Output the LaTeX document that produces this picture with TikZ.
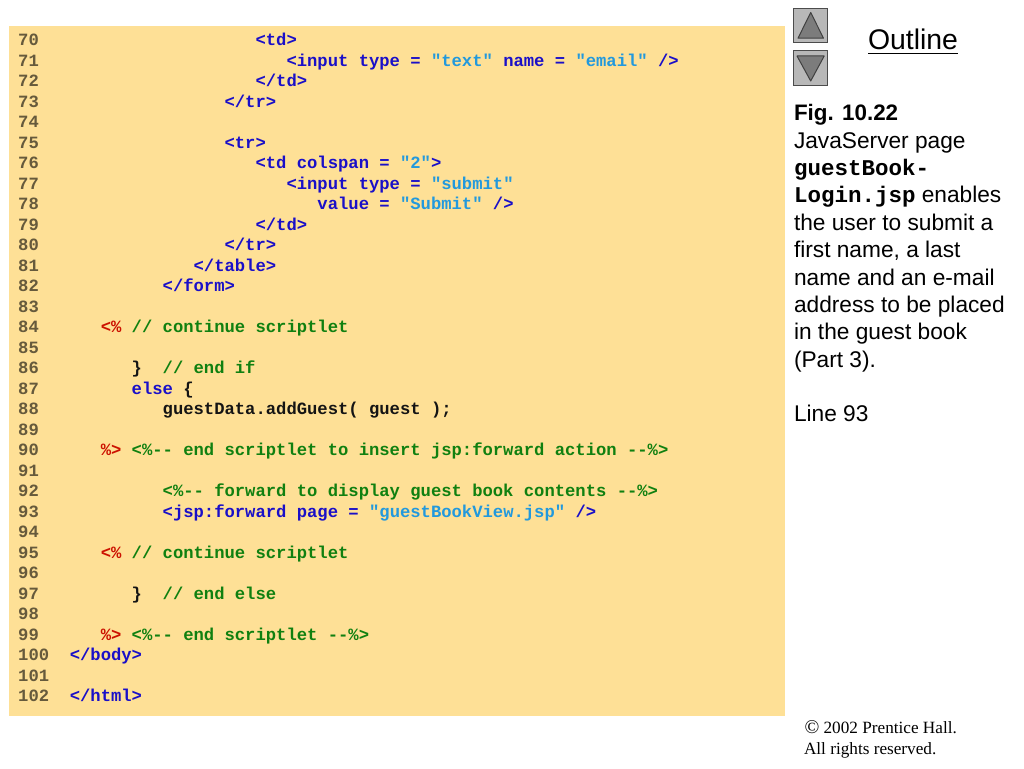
\documentclass[tikz,border=0pt]{standalone}
\usepackage{fontspec}
\setmainfont{Liberation Sans}
\newfontfamily\codefont{Liberation Mono}[Scale=1.0]
\newfontfamily\timesfont{Liberation Serif}
\definecolor{panelbg}{HTML}{FEE096}
\definecolor{numc}{HTML}{665A3C}
\definecolor{kw}{HTML}{1A0FC8}
\definecolor{cm}{HTML}{108010}
\definecolor{rd}{HTML}{CC1100}
\definecolor{st}{HTML}{2299DD}
\definecolor{ink}{HTML}{141414}
\definecolor{btn}{HTML}{B8B8B8}
\definecolor{tri}{HTML}{7C7C7C}
\tikzset{
  code/.style={anchor=base west,inner sep=0pt,outer sep=0pt,font=\codefont\bfseries\fontsize{17.2}{20}\selectfont},
  side/.style={anchor=base west,inner sep=0pt,outer sep=0pt,font=\fontsize{22.7}{27}\selectfont},
  copyr/.style={anchor=base west,inner sep=0pt,outer sep=0pt,font=\timesfont\fontsize{17.2}{21}\selectfont},
  btnbox/.style={draw=black!70,line width=1pt,fill=btn},
  arrowtri/.style={draw=black!75,line width=1pt,fill=tri,line join=round}
}
\newcommand{\K}[1]{\textcolor{kw}{#1}}
\newcommand{\C}[1]{\textcolor{cm}{#1}}
\newcommand{\R}[1]{\textcolor{rd}{#1}}
\newcommand{\Sg}[1]{\textcolor{st}{#1}}
\newcommand{\I}[1]{\textcolor{ink}{#1}}
% line number, column, content
\newcommand{\cl}[3]{%
  \pgfmathsetmacro{\yy}{45.6+20.5*(#1-70)}%
  \node[code,text=numc] (n#1) at (18.2,\yy) {#1};%
  \pgfmathsetmacro{\xx}{18.2+10.32*#2}%
  \node[code] (c#1) at (\xx,\yy) {#3};}
\newcommand{\nl}[1]{%
  \pgfmathsetmacro{\yy}{45.6+20.5*(#1-70)}%
  \node[code,text=numc] (n#1) at (18.2,\yy) {#1};}
\begin{document}
\begin{tikzpicture}[x=1pt,y=-1pt]
\useasboundingbox (0,0) rectangle (1024,768);
\fill[white] (0,0) rectangle (1024,768);
\fill[panelbg] (9,26) rectangle (785,716);
\cl{70}{23}{\K{<td>}}
\cl{71}{26}{\K{<input type =\ }\Sg{"text"}\K{\ name =\ }\Sg{"email"}\K{\ />}}
\cl{72}{23}{\K{</td>}}
\cl{73}{20}{\K{</tr>}}
\nl{74}
\cl{75}{20}{\K{<tr>}}
\cl{76}{23}{\K{<td colspan =\ }\Sg{"2"}\K{>}}
\cl{77}{26}{\K{<input type =\ }\Sg{"submit"}}
\cl{78}{29}{\K{value =\ }\Sg{"Submit"}\K{\ />}}
\cl{79}{23}{\K{</td>}}
\cl{80}{20}{\K{</tr>}}
\cl{81}{17}{\K{</table>}}
\cl{82}{14}{\K{</form>}}
\nl{83}
\cl{84}{8}{\R{<\%}\ \C{// continue scriptlet}}
\nl{85}
\cl{86}{11}{\I{\}}\ \ \C{// end if}}
\cl{87}{11}{\K{else}\ \I{\{}}
\cl{88}{14}{\I{guestData.addGuest( guest );}}
\nl{89}
\cl{90}{8}{\R{\%>}\ \C{<\%-- end scriptlet to insert jsp:forward action --\%>}}
\nl{91}
\cl{92}{14}{\C{<\%-- forward to display guest book contents --\%>}}
\cl{93}{14}{\K{<jsp:forward page =\ }\Sg{"guestBookView.jsp"}\K{\ />}}
\nl{94}
\cl{95}{8}{\R{<\%}\ \C{// continue scriptlet}}
\nl{96}
\cl{97}{11}{\I{\}}\ \ \C{// end else}}
\nl{98}
\cl{99}{8}{\R{\%>}\ \C{<\%-- end scriptlet --\%>}}
\cl{100}{5}{\K{</body>}}
\nl{101}
\cl{102}{5}{\K{</html>}}
% buttons
\draw[btnbox] (793.5,8.5) rectangle (827.5,42.5);
\draw[arrowtri] (810.7,12.5) -- (798,38.2) -- (823.5,38.2) -- cycle;
\draw[btnbox] (793.5,51) rectangle (827.5,85);
\draw[arrowtri] (810.7,81) -- (797,56) -- (824.2,56) -- cycle;
% side text
\node[side,font=\fontsize{28.4}{30}\selectfont] (outl) at (868,49.5) {Outline};
\draw[line width=1.6pt,black] (868,53.6) -- (958,53.6);
\node[side,font=\bfseries\fontsize{22.4}{27}\selectfont] (s1) at (794,120.5) {Fig. 10.22};
\node[side] (s2) at (794,148) {JavaServer page};
\node[side,font=\codefont\bfseries\fontsize{22.5}{27}\selectfont] (s3) at (794,175) {guestBook-};
\node[side] (s4) at (794,202) {{\codefont\bfseries\fontsize{22.5}{27}\selectfont Login.jsp} enables};
\node[side] (s5) at (794,230) {the user to submit a};
\node[side] (s6) at (794,257.5) {first name, a last};
\node[side] (s7) at (794,285) {name and an e-mail};
\node[side] (s8) at (794,312) {address to be placed};
\node[side] (s9) at (794,339.5) {in the guest book};
\node[side] (s10) at (794,367) {(Part 3).};
\node[side] (s11) at (794,421.5) {Line 93};
\node[copyr] (f1) at (804.5,733.5) {{\fontsize{19.5}{21}\selectfont ©} 2002 Prentice Hall.};
\node[copyr] (f2) at (804,754.5) {All rights reserved.};
\end{tikzpicture}
\end{document}
